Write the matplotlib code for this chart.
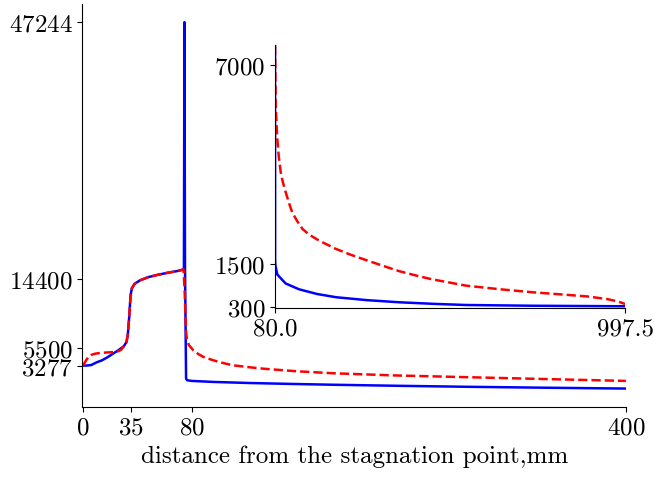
import matplotlib.pyplot as plt

plt.rcParams['font.family'] = 'cmr10'
plt.rcParams['mathtext.fontset'] = 'cm'
plt.rcParams['axes.formatter.use_mathtext'] = True
plt.rcParams['font.size'] = 18

# main plot data
x_blue = [0, 3, 6, 10, 14, 18, 22, 26, 30, 32, 33, 34, 35, 36, 38, 42, 48, 55, 62, 70, 74.3,
          74.7, 75.1, 75.9, 76.8, 80, 96, 123, 157, 184, 230, 282, 340, 400]
y_blue = [3277, 3290, 3350, 3700, 3960, 4350, 4800, 5250, 5750, 6300, 7300, 9500, 12300, 13200,
          13750, 14200, 14600, 14900, 15150, 15400, 15600,
          47244, 16000, 1600, 1400, 1320, 1190, 1050, 920, 830, 700, 570, 450, 340]

x_red = [0, 2, 4, 6, 9, 13, 17, 21, 25, 28, 30, 32, 33, 34, 35, 36, 38, 42, 48, 55, 62, 70, 74,
         74.8, 75.3, 75.9, 76.4, 78, 81.3, 85, 88.6, 96, 103, 110, 123, 133, 157, 184, 230, 282,
         340, 400]
y_red = [3277, 3900, 4400, 4650, 4811, 4900, 4950, 5000, 5050, 5300, 5750, 6300, 7300, 9500,
         12300, 13200, 13750, 14200, 14600, 14900, 15150, 15400, 15600,
         13000, 10500, 7600, 6730, 5900, 5230, 4750, 4390, 3955, 3620, 3330, 3060, 2880, 2560,
         2300, 2020, 1800, 1560, 1320]

# inset data
xi_blue = [80, 80.3, 81, 86, 99, 108, 143, 190, 240, 320, 406, 500, 581, 750, 997.5]
yi_blue = [7534, 1600, 1450, 1200, 1050, 950, 790, 660, 570, 490, 430, 385, 355, 335, 320]

xi_red = [80, 81, 81.8, 84, 86, 90, 95, 100, 108, 116, 125, 138, 152, 170, 196, 240, 280, 318,
          360, 406, 450, 490, 581, 670, 756, 840, 900, 950, 980, 997.5]
yi_red = [7534, 6600, 5870, 5350, 4950, 4450, 4030, 3780, 3475, 3200, 2920, 2680, 2460, 2300,
          2135, 1906, 1740, 1600, 1450, 1290, 1170, 1070, 890, 790, 707, 640, 590, 520, 450, 383]

main_xticks = [0, 35, 80, 400]
main_yticks = [3277, 5500, 14400, 47244]
inset_xticks = [80.0, 997.5]
inset_yticks = [300, 1500, 7000]

fig = plt.figure(figsize=(6.54, 4.81), dpi=100)
ax = fig.add_axes([0.126, 0.152, 0.831, 0.838])
ax.plot(x_blue, y_blue, color='blue', lw=1.8)
ax.plot(x_red, y_red, color='red', lw=1.8, ls='--')
ax.set_xlim(-0.5, 400)
ax.set_xticks(main_xticks)
ax.set_yticks(main_yticks)
ax.set_xlabel('distance from the stagnation point,mm')
ax.spines['top'].set_visible(False)
ax.spines['right'].set_visible(False)

ins = fig.add_axes([0.4205, 0.3576, 0.5352, 0.5468])
ins.patch.set_alpha(0)
ins.plot(xi_blue, yi_blue, color='blue', lw=1.8)
ins.plot(xi_red, yi_red, color='red', lw=1.8, ls='--')
ins.set_xlim(80, 997.5)
ins.set_ylim(272, 7553)
ins.set_xticks(inset_xticks)
ins.set_xticklabels(['80.0', '997.5'])
ins.set_yticks(inset_yticks)
ins.spines['top'].set_visible(False)
ins.spines['right'].set_visible(False)

fig.savefig('out.png', dpi=100)
